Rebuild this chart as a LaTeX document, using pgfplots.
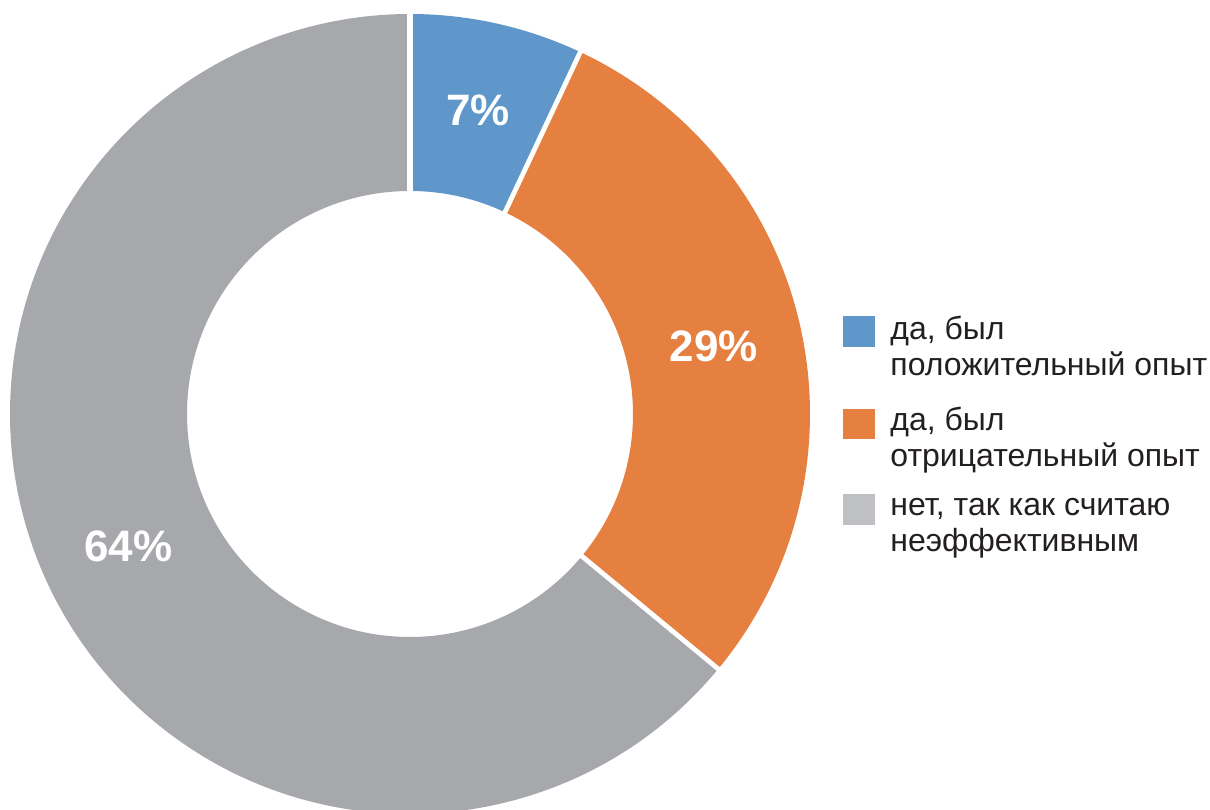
\documentclass[border=0pt]{standalone}
\usepackage{pgfplots}
\pgfplotsset{compat=1.18}
\usepackage{pgfplotstable}
\usepackage{fontspec}
\setmainfont{Liberation Sans}
\definecolor{pblue}{HTML}{5F97CA}
\definecolor{porange}{HTML}{E58041}
\definecolor{pgray}{HTML}{A7A8AC}
\definecolor{lgray}{HTML}{BFC0C4}
\definecolor{txt}{HTML}{231F20}

\pgfplotstableread{
value
7
29
64
}\slices

\begin{document}
\begin{tikzpicture}
\pgfplotstablegetelem{0}{value}\of\slices \edef\va{\pgfplotsretval}
\pgfplotstablegetelem{1}{value}\of\slices \edef\vb{\pgfplotsretval}
\pgfplotstablegetelem{2}{value}\of\slices \edef\vc{\pgfplotsretval}
\pgfmathsetmacro\tot{\va+\vb+\vc}
\pgfmathsetmacro\aA{90}
\pgfmathsetmacro\aB{90-(\va/\tot)*360}
\pgfmathsetmacro\aC{\aB-(\vb/\tot)*360}
\pgfmathsetmacro\aD{\aC-(\vc/\tot)*360}
\pgfmathsetmacro\mA{(\aA+\aB)/2}
\pgfmathsetmacro\mB{(\aB+\aC)/2}
\pgfmathsetmacro\mC{(\aC+\aD)/2}
\def\Ro{200pt}\def\Ri{111.5pt}\def\Rm{155.75pt}
\def\Rl{202pt}\def\Rs{109pt}
\useasboundingbox (0,0) rectangle (605pt,404.5pt);
\begin{axis}[at={(0,0)},anchor=south west,x=0.5pt,y=0.5pt,
  xmin=0,xmax=1210,ymin=0,ymax=809,hide axis,clip=true]
\addplot[draw=none] coordinates {(410,395)};
\coordinate (c) at (axis cs:410,395);
\fill[pblue] ([shift={(\aA:\Ro)}]c) arc[start angle=\aA,end angle=\aB,radius=\Ro] -- ([shift={(\aB:\Ri)}]c) arc[start angle=\aB,end angle=\aA,radius=\Ri] -- cycle;
\fill[porange] ([shift={(\aB:\Ro)}]c) arc[start angle=\aB,end angle=\aC,radius=\Ro] -- ([shift={(\aC:\Ri)}]c) arc[start angle=\aC,end angle=\aB,radius=\Ri] -- cycle;
\fill[pgray] ([shift={(\aC:\Ro)}]c) arc[start angle=\aC,end angle=\aD,radius=\Ro] -- ([shift={(\aD:\Ri)}]c) arc[start angle=\aD,end angle=\aC,radius=\Ri] -- cycle;
\draw[white,line width=2.7pt] ([shift={(\aA:\Rs)}]c) -- ([shift={(\aA:\Rl)}]c);
\draw[white,line width=2.4pt] ([shift={(\aB:\Rs)}]c) -- ([shift={(\aB:\Rl)}]c);
\draw[white,line width=2.4pt] ([shift={(\aC:\Rs)}]c) -- ([shift={(\aC:\Rl)}]c);
\node[white,font=\fontsize{22}{24}\selectfont\bfseries] at ([shift={(\mA:\Rm)}]c) {7\%};
\node[white,font=\fontsize{22}{24}\selectfont\bfseries] at ([shift={(\mB:\Rm)}]c) {29\%};
\node[white,font=\fontsize{22}{24}\selectfont\bfseries] at ([shift={(\mC:\Rm)}]c) {64\%};
% legend
\fill[pblue] (axis cs:843,462) rectangle (axis cs:875,493);
\fill[porange] (axis cs:843,370) rectangle (axis cs:875,400);
\fill[lgray] (axis cs:843,284) rectangle (axis cs:875,315);
\begin{scope}[every node/.style={anchor=base west,inner sep=0pt,text=txt,font=\fontsize{16}{18}\selectfont}]
\node at (axis cs:890,469.7) {да, был};
\node at (axis cs:890,433.7) {положительный опыт};
\node at (axis cs:890,378.2) {да, был};
\node at (axis cs:890,342.5) {отрицательный опыт};
\node at (axis cs:890,293.5) {нет, так как считаю};
\node at (axis cs:890,257.5) {неэффективным};
\end{scope}
\end{axis}
\end{tikzpicture}
\end{document}
